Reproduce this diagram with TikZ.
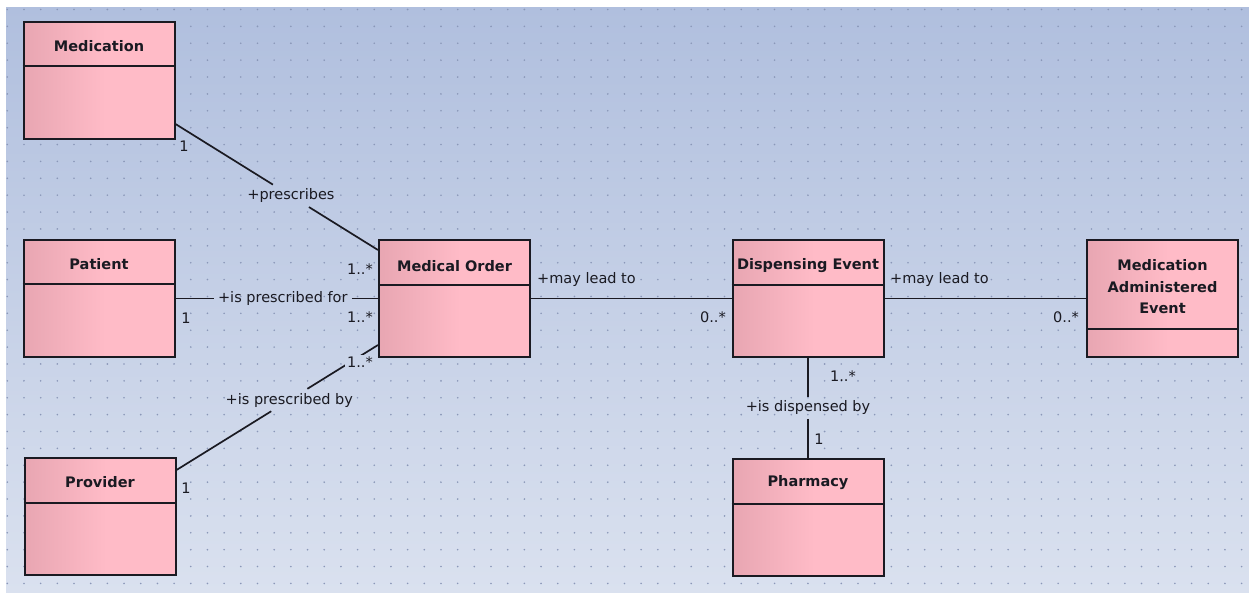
\documentclass[tikz,border=0pt]{standalone}
\usepackage{fontspec}
\setmainfont{DejaVu Sans}
\usepackage{tikz}
\usetikzlibrary{positioning}
\definecolor{bgtop}{HTML}{B0BFDE}
\definecolor{bgbot}{HTML}{DAE1EF}
\definecolor{griddot}{HTML}{8A97B8}
\definecolor{pinkdark}{HTML}{E8A6B2}
\definecolor{pinklight}{HTML}{FFBBC7}
\definecolor{ink}{HTML}{1A1A22}
\pgfdeclarehorizontalshading{classfill}{100bp}{color(0bp)=(pinkdark); color(25bp)=(pinkdark); color(52bp)=(pinklight); color(100bp)=(pinklight)}

\begin{document}
\begin{tikzpicture}[
    x=1pt, y=-1pt,
    cls/.style={draw=ink, line width=2pt, shading=classfill, minimum width=151pt,
                minimum height=117pt, inner sep=0pt},
    divider/.style={draw=ink, line width=2pt},
    title/.style={font=\fontsize{14.5}{21.5}\selectfont\bfseries, text=ink, align=center},
    role/.style={font=\fontsize{14.5}{17}\selectfont, text=ink, inner sep=4pt},
    mult/.style={font=\fontsize{14.5}{17}\selectfont, text=ink, inner sep=0pt},
    assoc/.style={draw=ink, line width=1.7pt}
  ]
    % canvas with dotted grid
    \fill[white] (0,0) rectangle (1249,592);
    \useasboundingbox (0,0) rectangle (1249,592);
    \shade[top color=bgtop, bottom color=bgbot] (6,7) rectangle (1249,592);
    \foreach \i in {0,...,74}
      \foreach \j in {0,...,34}
        \fill[griddot] (7.3+16.68*\i, 9.5+16.88*\j) circle (0.9);

    % classes
    \node[cls] (med) at (99,80.5) {};
    \node[cls] (pat) at (99,298.5) {};
    \node[cls] (prov) at (100,516.5) {};
    \node[cls] (mo) at (454.5,298.5) {};
    \node[cls] (disp) at (808,298.5) {};
    \node[cls] (mae) at (1162.5,298.5) {};
    \node[cls] (phar) at (808,517) {};

    \foreach \c/\d in {med/45,pat/45,prov/46,mo/46,disp/46,mae/90,phar/46}
      \draw[divider] ([yshift=-\d pt]\c.north west) -- ([yshift=-\d pt]\c.north east);

    \node[title] (medT) at ([yshift=-25pt]med.north) {Medication};
    \node[title] (patT) at ([yshift=-25pt]pat.north) {Patient};
    \node[title] (provT) at ([yshift=-25pt]prov.north) {Provider};
    \node[title] (moT) at ([yshift=-27pt]mo.north) {Medical Order};
    \node[title] (dispT) at ([yshift=-27pt]disp.north) {Dispensing Event};
    \node[title] (maeT) at ([yshift=-48pt]mae.north) {Medication\\Administered\\Event};
    \node[title] (pharT) at ([yshift=-25pt]phar.north) {Pharmacy};

    % association end points
    \coordinate (medA) at ([yshift=-43.5pt]med.east);
    \coordinate (moA) at ([yshift=48.5pt]mo.west);
    \coordinate (provA) at ([yshift=46.5pt]prov.east);
    \coordinate (moC) at ([yshift=-46.5pt]mo.west);

    % associations
    \path (medA) -- node[role, pos=0.57] (presL) {+prescribes} (moA);
    \draw[assoc] (medA) -- (presL);
    \draw[assoc] (presL) -- (moA);

    \path (pat.east) -- node[role, pos=0.53] (prfL) {+is prescribed for} (mo.west);
    \draw[assoc] (pat.east) -- (prfL);
    \draw[assoc] (prfL) -- (mo.west);

    \path (provA) -- node[role, pos=0.56] (prbL) {+is prescribed by} (moC);
    \draw[assoc] (provA) -- (prbL);
    \draw[assoc] (prbL) -- (moC);

    \draw[assoc] (mo.east) -- (disp.west);
    \draw[assoc] (disp.east) -- (mae.west);

    \path (disp.south) -- node[role, pos=0.5] (dspL) {+is dispensed by} (phar.north);
    \draw[assoc] (disp.south) -- (dspL);
    \draw[assoc] (dspL) -- (phar.north);

    \node[role, anchor=west] (lead1) at (533,279.5) {+may lead to};
    \node[role, anchor=west] (lead2) at (886,279.5) {+may lead to};

    % multiplicities
    \node[mult] (m1) at (184,146) {1};
    \node[mult] (m2) at (360,269) {1..*};
    \node[mult] (m3) at (186,318) {1};
    \node[mult] (m4) at (360,317) {1..*};
    \node[mult, fill=bgbot!61!bgtop, inner sep=2pt] (m5) at (360,362) {1..*};
    \node[mult] (m6) at (186,488) {1};
    \node[mult] (m7) at (713,317) {0..*};
    \node[mult] (m8) at (1066,317) {0..*};
    \node[mult] (m9) at (843,376) {1..*};
    \node[mult] (m10) at (819,439) {1};
  \end{tikzpicture}
\end{document}
